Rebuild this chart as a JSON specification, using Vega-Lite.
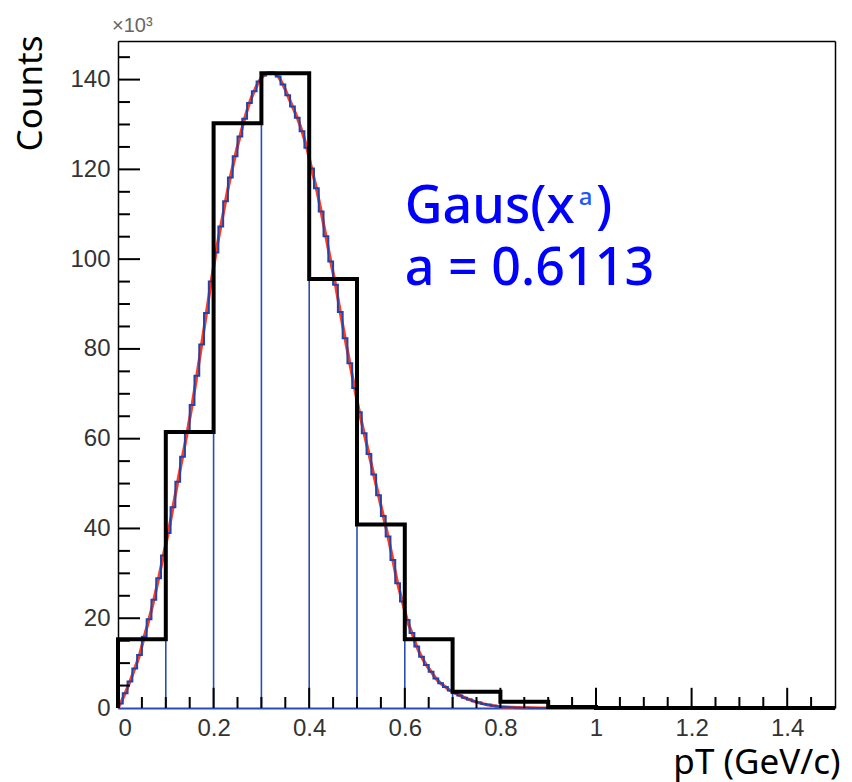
{
  "$schema": "https://vega.github.io/schema/vega-lite/v6.json",
  "width": 717,
  "height": 667,
  "autosize": {"type": "none"},
  "padding": {"left": 118, "top": 41, "right": 17, "bottom": 74},
  "background": "white",
  "config": {
    "view": {"stroke": null},
    "axis": {"grid": false, "labelFont": "Liberation Sans", "labelFontSize": 24, "labelColor": "#333333", "titleFont": "Noto Sans", "titleFontSize": 35, "titleFontWeight": "normal", "titleColor": "black"}
  },
  "datasets": {
    "black": [
      {"x": 0, "v": 0}, {"x": 0, "v": 15.3}, {"x": 0.1, "v": 61.5}, {"x": 0.2, "v": 130.3}, {"x": 0.3, "v": 141.4},
      {"x": 0.4, "v": 95.6}, {"x": 0.5, "v": 40.9}, {"x": 0.6, "v": 15.3}, {"x": 0.7, "v": 3.6}, {"x": 0.8, "v": 1.4},
      {"x": 0.9, "v": 0.2}, {"x": 1.0, "v": 0}, {"x": 1.5, "v": 0}
    ],
    "blue": [
      {"x": 0, "v": 0},
      {"x": 0.00, "v": 1.0}, {"x": 0.01, "v": 3.3}, {"x": 0.02, "v": 5.9}, {"x": 0.03, "v": 8.8}, {"x": 0.04, "v": 11.8},
      {"x": 0.05, "v": 15.9}, {"x": 0.06, "v": 19.8}, {"x": 0.07, "v": 24.1}, {"x": 0.08, "v": 28.9}, {"x": 0.09, "v": 34},
      {"x": 0.10, "v": 39}, {"x": 0.11, "v": 44.7}, {"x": 0.12, "v": 50.4}, {"x": 0.13, "v": 56}, {"x": 0.14, "v": 61.5},
      {"x": 0.15, "v": 67.5}, {"x": 0.16, "v": 74}, {"x": 0.17, "v": 81}, {"x": 0.18, "v": 88}, {"x": 0.19, "v": 95},
      {"x": 0.20, "v": 101.5}, {"x": 0.21, "v": 107.3}, {"x": 0.22, "v": 112.9}, {"x": 0.23, "v": 118.2}, {"x": 0.24, "v": 122.9},
      {"x": 0.25, "v": 127.3}, {"x": 0.26, "v": 131.3}, {"x": 0.27, "v": 134.8}, {"x": 0.28, "v": 137.4}, {"x": 0.29, "v": 139.6},
      {"x": 0.30, "v": 140.9}, {"x": 0.31, "v": 141.5}, {"x": 0.32, "v": 141.5}, {"x": 0.33, "v": 140.7}, {"x": 0.34, "v": 138.9},
      {"x": 0.35, "v": 136.5}, {"x": 0.36, "v": 134}, {"x": 0.37, "v": 131.5}, {"x": 0.38, "v": 128.5}, {"x": 0.39, "v": 124.8},
      {"x": 0.40, "v": 120.2}, {"x": 0.41, "v": 115.8}, {"x": 0.42, "v": 110.6}, {"x": 0.43, "v": 105.1}, {"x": 0.44, "v": 99.5},
      {"x": 0.45, "v": 94.3}, {"x": 0.46, "v": 88.2}, {"x": 0.47, "v": 82.4}, {"x": 0.48, "v": 76.8}, {"x": 0.49, "v": 71.3},
      {"x": 0.50, "v": 65.9}, {"x": 0.51, "v": 61.2}, {"x": 0.52, "v": 56.6}, {"x": 0.53, "v": 52}, {"x": 0.54, "v": 47.4},
      {"x": 0.55, "v": 42.8}, {"x": 0.56, "v": 38.2}, {"x": 0.57, "v": 33}, {"x": 0.58, "v": 27.8}, {"x": 0.59, "v": 23.7},
      {"x": 0.60, "v": 19.6}, {"x": 0.61, "v": 16.7}, {"x": 0.62, "v": 13.7}, {"x": 0.63, "v": 11.4}, {"x": 0.64, "v": 9.6},
      {"x": 0.65, "v": 8.1}, {"x": 0.66, "v": 6.6}, {"x": 0.67, "v": 5.5}, {"x": 0.68, "v": 4.7}, {"x": 0.69, "v": 3.9},
      {"x": 0.70, "v": 3.3}, {"x": 0.71, "v": 2.8}, {"x": 0.72, "v": 2.3}, {"x": 0.73, "v": 1.9}, {"x": 0.74, "v": 1.5},
      {"x": 0.75, "v": 1.2}, {"x": 0.76, "v": 0.9}, {"x": 0.77, "v": 0.7}, {"x": 0.78, "v": 0.5}, {"x": 0.79, "v": 0.35},
      {"x": 0.80, "v": 0.25}, {"x": 0.81, "v": 0.18}, {"x": 0.82, "v": 0.12}, {"x": 0.83, "v": 0.08}, {"x": 0.84, "v": 0.05},
      {"x": 0.85, "v": 0.03}, {"x": 0.86, "v": 0.02}, {"x": 0.87, "v": 0}, {"x": 0.95, "v": 0}
    ],
    "red": [
      {"x": 0, "v": 0},
      {"x": 0.005, "v": 1.0}, {"x": 0.015, "v": 3.3}, {"x": 0.025, "v": 5.9}, {"x": 0.035, "v": 8.8}, {"x": 0.045, "v": 11.8},
      {"x": 0.055, "v": 15.9}, {"x": 0.065, "v": 19.8}, {"x": 0.075, "v": 24.1}, {"x": 0.085, "v": 28.9}, {"x": 0.095, "v": 34},
      {"x": 0.105, "v": 39}, {"x": 0.115, "v": 44.7}, {"x": 0.125, "v": 50.4}, {"x": 0.135, "v": 56}, {"x": 0.145, "v": 61.5},
      {"x": 0.155, "v": 67.5}, {"x": 0.165, "v": 74}, {"x": 0.175, "v": 81}, {"x": 0.185, "v": 88}, {"x": 0.195, "v": 95},
      {"x": 0.205, "v": 101.5}, {"x": 0.215, "v": 107.3}, {"x": 0.225, "v": 112.9}, {"x": 0.235, "v": 118.2}, {"x": 0.245, "v": 122.9},
      {"x": 0.255, "v": 127.3}, {"x": 0.265, "v": 131.3}, {"x": 0.275, "v": 134.8}, {"x": 0.285, "v": 137.4}, {"x": 0.295, "v": 139.6},
      {"x": 0.305, "v": 140.9}, {"x": 0.315, "v": 141.5}, {"x": 0.325, "v": 141.5}, {"x": 0.335, "v": 140.7}, {"x": 0.345, "v": 138.9},
      {"x": 0.355, "v": 136.5}, {"x": 0.365, "v": 134}, {"x": 0.375, "v": 131.5}, {"x": 0.385, "v": 128.5}, {"x": 0.395, "v": 124.8},
      {"x": 0.405, "v": 120.2}, {"x": 0.415, "v": 115.8}, {"x": 0.425, "v": 110.6}, {"x": 0.435, "v": 105.1}, {"x": 0.445, "v": 99.5},
      {"x": 0.455, "v": 94.3}, {"x": 0.465, "v": 88.2}, {"x": 0.475, "v": 82.4}, {"x": 0.485, "v": 76.8}, {"x": 0.495, "v": 71.3},
      {"x": 0.505, "v": 65.9}, {"x": 0.515, "v": 61.2}, {"x": 0.525, "v": 56.6}, {"x": 0.535, "v": 52}, {"x": 0.545, "v": 47.4},
      {"x": 0.555, "v": 42.8}, {"x": 0.565, "v": 38.2}, {"x": 0.575, "v": 33}, {"x": 0.585, "v": 27.8}, {"x": 0.595, "v": 23.7},
      {"x": 0.605, "v": 19.6}, {"x": 0.615, "v": 16.7}, {"x": 0.625, "v": 13.7}, {"x": 0.635, "v": 11.4}, {"x": 0.645, "v": 9.6},
      {"x": 0.655, "v": 8.1}, {"x": 0.665, "v": 6.6}, {"x": 0.675, "v": 5.5}, {"x": 0.685, "v": 4.7}, {"x": 0.695, "v": 3.9},
      {"x": 0.705, "v": 3.3}, {"x": 0.715, "v": 2.8}, {"x": 0.725, "v": 2.3}, {"x": 0.735, "v": 1.9}, {"x": 0.745, "v": 1.5},
      {"x": 0.755, "v": 1.2}, {"x": 0.765, "v": 0.9}, {"x": 0.775, "v": 0.7}, {"x": 0.785, "v": 0.5}, {"x": 0.795, "v": 0.35},
      {"x": 0.805, "v": 0.25}, {"x": 0.815, "v": 0.18}, {"x": 0.825, "v": 0.12}, {"x": 0.835, "v": 0.08}, {"x": 0.845, "v": 0.05},
      {"x": 0.855, "v": 0.03}, {"x": 0.865, "v": 0.02}, {"x": 0.9, "v": 0}, {"x": 1.5, "v": 0}
    ],
    "edges": [
      {"x": 0.1, "top": 39}, {"x": 0.2, "top": 101.5}, {"x": 0.3, "top": 140.9}, {"x": 0.4, "top": 124.8},
      {"x": 0.5, "top": 71.3}, {"x": 0.6, "top": 23.7}, {"x": 0.7, "top": 3.9}, {"x": 0.8, "top": 0.35}
    ],
    "xminor": [
      {"t": 0.05}, {"t": 0.1}, {"t": 0.15}, {"t": 0.25}, {"t": 0.3}, {"t": 0.35}, {"t": 0.45}, {"t": 0.5}, {"t": 0.55},
      {"t": 0.65}, {"t": 0.7}, {"t": 0.75}, {"t": 0.85}, {"t": 0.9}, {"t": 0.95}, {"t": 1.05}, {"t": 1.1}, {"t": 1.15},
      {"t": 1.25}, {"t": 1.3}, {"t": 1.35}, {"t": 1.45}
    ],
    "xmajor": [{"t": 0.2}, {"t": 0.4}, {"t": 0.6}, {"t": 0.8}, {"t": 1.0}, {"t": 1.2}, {"t": 1.4}],
    "yminor": [
      {"t": 5}, {"t": 10}, {"t": 15}, {"t": 25}, {"t": 30}, {"t": 35}, {"t": 45}, {"t": 50}, {"t": 55}, {"t": 65}, {"t": 70},
      {"t": 75}, {"t": 85}, {"t": 90}, {"t": 95}, {"t": 105}, {"t": 110}, {"t": 115}, {"t": 125}, {"t": 130}, {"t": 135}, {"t": 145}
    ],
    "ymajor": [{"t": 20}, {"t": 40}, {"t": 60}, {"t": 80}, {"t": 100}, {"t": 120}, {"t": 140}],
    "one": [{}]
  },
  "resolve": {"axis": {"x": "independent", "y": "independent"}},
  "layer": [
    {
      "data": {"name": "red"},
      "mark": {"type": "line", "interpolate": "monotone", "color": "#ff3b22", "strokeWidth": 3.2},
      "encoding": {
        "x": {"field": "x", "type": "quantitative", "scale": {"domain": [0, 1.5], "nice": false, "zero": false},
              "axis": {"orient": "top", "domain": true, "domainColor": "black", "domainWidth": 1.5, "ticks": false, "labels": false, "title": null}},
        "y": {"field": "v", "type": "quantitative", "scale": {"domain": [0, 148.6], "nice": false},
              "axis": {"orient": "right", "domain": true, "domainColor": "black", "domainWidth": 1.5, "ticks": false, "labels": false, "title": null}}
      }
    },
    {
      "data": {"name": "edges"},
      "mark": {"type": "rule", "color": "#2a4db5", "strokeWidth": 1.6},
      "encoding": {
        "x": {"field": "x", "type": "quantitative", "axis": null},
        "y": {"field": "top", "type": "quantitative", "axis": null},
        "y2": {"datum": 0}
      }
    },
    {
      "data": {"name": "blue"},
      "mark": {"type": "line", "interpolate": "step-after", "color": "#2244aa", "strokeWidth": 2},
      "encoding": {
        "x": {"field": "x", "type": "quantitative", "axis": null},
        "y": {"field": "v", "type": "quantitative", "axis": null}
      }
    },
    {
      "data": {"name": "black"},
      "mark": {"type": "line", "interpolate": "step-after", "color": "black", "strokeWidth": 4},
      "encoding": {
        "x": {"field": "x", "type": "quantitative",
              "axis": {"orient": "bottom", "values": [0, 0.2, 0.4, 0.6, 0.8, 1, 1.2, 1.4], "format": "~g", "ticks": false, "labelPadding": 8, "domain": true, "domainColor": "#2a4db5", "domainWidth": 2,
                       "title": "pT (GeV/c)", "titleAlign": "right", "titleBaseline": "alphabetic", "titleX": 722, "titleY": 65}},
        "y": {"field": "v", "type": "quantitative",
              "axis": {"orient": "left", "values": [0, 20, 40, 60, 80, 100, 120, 140], "ticks": false, "labelPadding": 8, "domain": true, "domainColor": "black", "domainWidth": 1.5,
                       "title": "Counts", "titleAngle": -90, "titleAlign": "right", "titleBaseline": "middle", "titleX": -88, "titleY": -6}}
      }
    },
    {
      "data": {"name": "xminor"},
      "mark": {"type": "rule", "color": "black", "strokeWidth": 2},
      "encoding": {
        "x": {"field": "t", "type": "quantitative", "axis": null},
        "y": {"datum": 0, "type": "quantitative", "axis": null},
        "y2": {"datum": 2.45}
      }
    },
    {
      "data": {"name": "xmajor"},
      "mark": {"type": "rule", "color": "black", "strokeWidth": 2},
      "encoding": {
        "x": {"field": "t", "type": "quantitative", "axis": null},
        "y": {"datum": 0, "type": "quantitative", "axis": null},
        "y2": {"datum": 4.5}
      }
    },
    {
      "data": {"name": "yminor"},
      "mark": {"type": "rule", "color": "black", "strokeWidth": 2},
      "encoding": {
        "y": {"field": "t", "type": "quantitative", "axis": null},
        "x": {"datum": 0, "type": "quantitative", "axis": null},
        "x2": {"datum": 0.025}
      }
    },
    {
      "data": {"name": "ymajor"},
      "mark": {"type": "rule", "color": "black", "strokeWidth": 2},
      "encoding": {
        "y": {"field": "t", "type": "quantitative", "axis": null},
        "x": {"datum": 0, "type": "quantitative", "axis": null},
        "x2": {"datum": 0.046}
      }
    },
    {
      "data": {"name": "one"},
      "mark": {"type": "text", "font": "Liberation Sans", "fontSize": 20, "color": "#666666", "align": "left", "baseline": "alphabetic", "dx": -6, "dy": -9},
      "encoding": {
        "x": {"datum": 0, "type": "quantitative", "axis": null},
        "y": {"datum": 148.6, "type": "quantitative", "axis": null},
        "text": {"value": "×10³"}
      }
    },
    {
      "data": {"name": "one"},
      "mark": {"type": "text", "font": "Noto Sans", "fontSize": 52, "fontWeight": 500, "color": "#0000ff", "align": "left", "baseline": "alphabetic"},
      "encoding": {
        "x": {"datum": 0.6, "type": "quantitative", "axis": null},
        "y": {"datum": 108.1, "type": "quantitative", "axis": null},
        "text": {"value": "Gaus(x"}
      }
    },
    {
      "data": {"name": "one"},
      "mark": {"type": "text", "font": "Noto Sans", "fontSize": 24, "fontWeight": 500, "color": "#2255ff", "align": "left", "baseline": "alphabetic"},
      "encoding": {
        "x": {"datum": 0.964, "type": "quantitative", "axis": null},
        "y": {"datum": 112.1, "type": "quantitative", "axis": null},
        "text": {"value": "a"}
      }
    },
    {
      "data": {"name": "one"},
      "mark": {"type": "text", "font": "Noto Sans", "fontSize": 52, "fontWeight": 500, "color": "#0000ff", "align": "left", "baseline": "alphabetic"},
      "encoding": {
        "x": {"datum": 1.0, "type": "quantitative", "axis": null},
        "y": {"datum": 108.1, "type": "quantitative", "axis": null},
        "text": {"value": ")"}
      }
    },
    {
      "data": {"name": "one"},
      "mark": {"type": "text", "font": "Noto Sans", "fontSize": 52, "fontWeight": 500, "color": "#0000ff", "align": "left", "baseline": "alphabetic"},
      "encoding": {
        "x": {"datum": 0.6, "type": "quantitative", "axis": null},
        "y": {"datum": 94.3, "type": "quantitative", "axis": null},
        "text": {"value": "a = 0.6113"}
      }
    }
  ]
}
